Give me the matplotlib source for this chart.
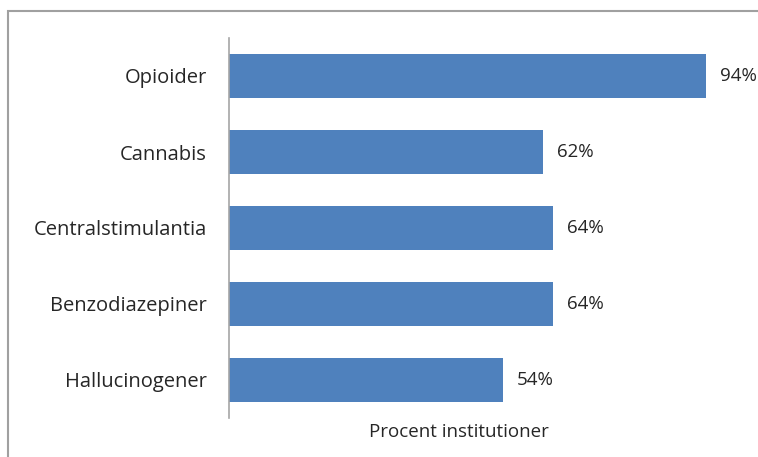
import matplotlib
matplotlib.use("Agg")
import matplotlib.pyplot as plt
import matplotlib.patches as patches

categories = ["Hallucinogener", "Benzodiazepiner", "Centralstimulantia", "Cannabis", "Opioider"]
values = [54, 64, 64, 62, 94]
xlabel = "Procent institutioner"

plt.rcParams['font.family'] = ['Open Sans', 'DejaVu Sans']
text_color = '#262626'

fig = plt.figure(figsize=(7.58, 4.57), dpi=100)
fig.patch.set_facecolor('white')

# outer chart frame (cut at right/bottom like the reference)
frame = patches.Rectangle((8 / 758, -0.01), 1.0, 1 - 11 / 457 + 0.01,
                          transform=fig.transFigure, fill=False,
                          edgecolor='#a0a0a0', linewidth=1.5)
fig.add_artist(frame)

ax = fig.add_axes([229 / 758, 1 - 418 / 457, 507 / 758, 380 / 457])
ypos = list(range(len(categories)))
bars = ax.barh(ypos, values, height=0.57, color='#4F81BD')
ax.set_xlim(0, 100)
ax.set_ylim(-0.5, len(categories) - 0.5)
ax.set_yticks(ypos)
ax.set_yticklabels(categories, fontsize=14.5, color=text_color)
ax.tick_params(axis='y', length=0, pad=16)
ax.set_xticks([])

for s in ['top', 'right', 'bottom']:
    ax.spines[s].set_visible(False)
ax.spines['left'].set_color('#a6a6a6')
ax.spines['left'].set_linewidth(1.2)

for b, v in zip(bars, values):
    ax.annotate(f"{v}%", (b.get_width(), b.get_y() + b.get_height() / 2),
                xytext=(14, 0), textcoords='offset pixels',
                ha='left', va='center', fontsize=13.5, color=text_color)

fig.text(459 / 758, 1 - 432 / 457, xlabel, ha='center', va='center',
         fontsize=13.5, color=text_color)

fig.savefig("out.png", dpi=100)
